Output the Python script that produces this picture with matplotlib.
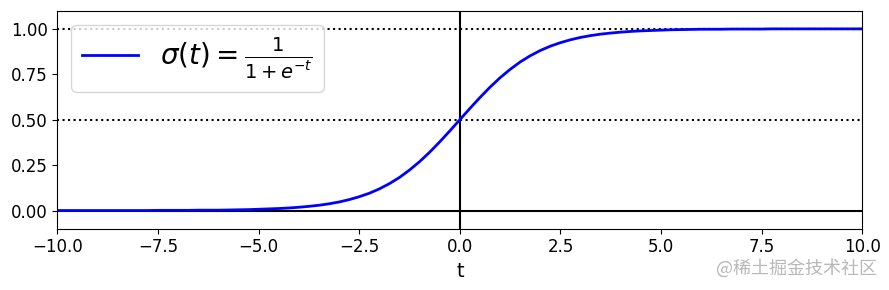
import numpy as np
import matplotlib

matplotlib.use("Agg")
import matplotlib.pyplot as plt

# t from -10 to 10 in steps of 0.25, sigma values
t = np.linspace(-10, 10, 81)
sig = [
    0.000, 0.000, 0.000, 0.000, 0.000, 0.000, 0.000, 0.000, 0.000, 0.000,
    0.001, 0.001, 0.001, 0.001, 0.002, 0.002, 0.002, 0.003, 0.004, 0.005,
    0.007, 0.009, 0.011, 0.014, 0.018, 0.023, 0.029, 0.037, 0.047, 0.060,
    0.076, 0.095, 0.119, 0.148, 0.182, 0.223, 0.269, 0.321, 0.378, 0.438,
    0.500,
    0.562, 0.622, 0.679, 0.731, 0.777, 0.818, 0.852, 0.881, 0.905, 0.924,
    0.940, 0.953, 0.963, 0.971, 0.977, 0.982, 0.986, 0.989, 0.991, 0.993,
    0.995, 0.996, 0.997, 0.998, 0.998, 0.998, 0.999, 0.999, 0.999, 0.999,
    1.000, 1.000, 1.000, 1.000, 1.000, 1.000, 1.000, 1.000, 1.000, 1.000,
]
guides = [0.5, 1.0]
XMIN, XMAX = -10, 10

fig = plt.figure(figsize=(8.89, 2.90), dpi=100)
ax = fig.add_axes([0.0645, 0.2114, 0.9055, 0.7517])

ax.plot([XMIN, XMAX], [0, 0], "k-")
for g in guides:
    ax.plot([XMIN, XMAX], [g, g], "k:")
ax.plot([0, 0], [-1.1, 1.1], "k-")
ax.plot(t, sig, "b-", linewidth=2, label=r"$\sigma(t) = \frac{1}{1 + e^{-t}}$")

ax.set_xlabel("t", fontsize=14)
ax.legend(loc="upper left", fontsize=20)
ax.axis([XMIN, XMAX, -0.1, 1.1])
ax.tick_params(labelsize=12)

fig.text(0.987, 0.075, "@稀土掘金技术社区", ha="right", va="center",
         fontsize=13, color="#b8b8b8",
         family=["Noto Sans CJK SC", "DejaVu Sans"])

fig.savefig("out.png", dpi=100)
